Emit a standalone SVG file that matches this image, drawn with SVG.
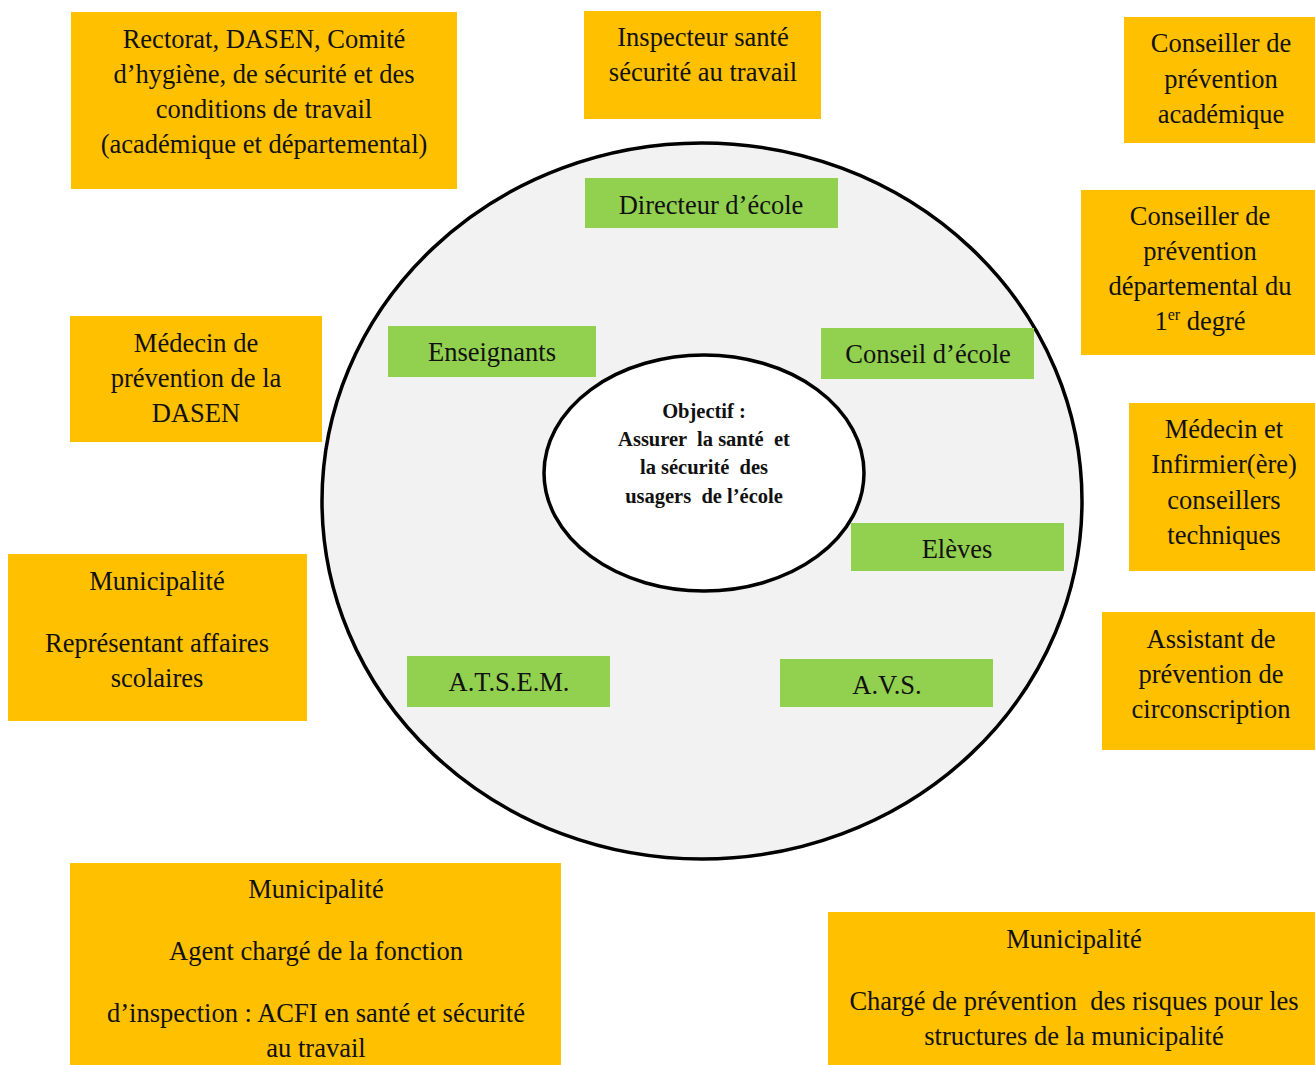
<svg xmlns="http://www.w3.org/2000/svg" width="1315" height="1065" viewBox="0 0 1315 1065">
<style>
.o{fill:#ffc000}
.g{fill:#92d050}
text{font-family:"Liberation Serif","Times New Roman",serif;font-size:26.5px;fill:#111;text-anchor:middle;white-space:pre}
.c{font-size:20.5px;font-weight:bold}
</style>
<rect width="1315" height="1065" fill="#fff"/>
<g id="outer-circle">
<ellipse cx="702" cy="501" rx="380" ry="358" fill="#f2f2f2" stroke="#000" stroke-width="3.5"/>
</g>
<g id="objectif">
<ellipse cx="704" cy="473" rx="160" ry="118" fill="#fff" stroke="#000" stroke-width="3.5"/>
<text class="c" xml:space="preserve"><tspan x="704" y="418">Objectif :</tspan><tspan x="704" y="446">Assurer  la santé  et</tspan><tspan x="704" y="474">la sécurité  des</tspan><tspan x="704" y="503">usagers  de l’école</tspan></text>
</g>
<g id="connectors"></g>
<g id="directeur"><rect class="g" x="585" y="178" width="253" height="50"/><text x="711" y="214">Directeur d’école</text></g>
<g id="enseignants"><rect class="g" x="388" y="326" width="208" height="51"/><text x="492" y="361">Enseignants</text></g>
<g id="conseil"><rect class="g" x="821" y="328" width="213" height="51"/><text x="928" y="363">Conseil d’école</text></g>
<g id="eleves"><rect class="g" x="851" y="523" width="213" height="48"/><text x="957" y="558">Elèves</text></g>
<g id="atsem"><rect class="g" x="407" y="656" width="203" height="51"/><text x="509" y="691">A.T.S.E.M.</text></g>
<g id="avs"><rect class="g" x="780" y="659" width="213" height="48"/><text x="887" y="694">A.V.S.</text></g>

<g id="rectorat"><rect class="o" x="71" y="12" width="386" height="177"/><text><tspan x="264" y="48">Rectorat, DASEN, Comité</tspan><tspan x="264" y="83">d’hygiène, de sécurité et des</tspan><tspan x="264" y="118">conditions de travail</tspan><tspan x="264" y="153">(académique et départemental)</tspan></text></g>
<g id="inspecteur"><rect class="o" x="584" y="11" width="237" height="108"/><text><tspan x="703" y="46">Inspecteur santé</tspan><tspan x="703" y="81">sécurité au travail</tspan></text></g>
<g id="cp-academique"><rect class="o" x="1124" y="17" width="191" height="126"/><text><tspan x="1221" y="52">Conseiller de</tspan><tspan x="1221" y="88">prévention</tspan><tspan x="1221" y="123">académique</tspan></text></g>
<g id="cp-departemental"><rect class="o" x="1081" y="190" width="234" height="165"/><text><tspan x="1200" y="225">Conseiller de</tspan><tspan x="1200" y="260">prévention</tspan><tspan x="1200" y="295">départemental du</tspan><tspan x="1200" y="330">1<tspan font-size="16" dy="-10">er</tspan><tspan dy="10"> degré</tspan></tspan></text></g>
<g id="medecin-infirmier"><rect class="o" x="1129" y="403" width="186" height="168"/><text><tspan x="1224" y="438">Médecin et</tspan><tspan x="1224" y="473">Infirmier(ère)</tspan><tspan x="1224" y="509">conseillers</tspan><tspan x="1224" y="544">techniques</tspan></text></g>
<g id="assistant"><rect class="o" x="1102" y="612" width="213" height="138"/><text><tspan x="1211" y="648">Assistant de</tspan><tspan x="1211" y="683">prévention de</tspan><tspan x="1211" y="718">circonscription</tspan></text></g>
<g id="medecin-dasen"><rect class="o" x="70" y="316" width="252" height="126"/><text><tspan x="196" y="352">Médecin de</tspan><tspan x="196" y="387">prévention de la</tspan><tspan x="196" y="422">DASEN</tspan></text></g>
<g id="municipalite-representant"><rect class="o" x="8" y="554" width="299" height="167"/><text><tspan x="157" y="590">Municipalité</tspan><tspan x="157" y="652">Représentant affaires</tspan><tspan x="157" y="687">scolaires</tspan></text></g>
<g id="municipalite-acfi"><rect class="o" x="70" y="863" width="491" height="202"/><text><tspan x="316" y="898">Municipalité</tspan><tspan x="316" y="960">Agent chargé de la fonction</tspan><tspan x="316" y="1022">d’inspection : ACFI en santé et sécurité</tspan><tspan x="316" y="1057">au travail</tspan></text></g>
<g id="municipalite-prevention"><rect class="o" x="828" y="912" width="487" height="153"/><text xml:space="preserve"><tspan x="1074" y="948">Municipalité</tspan><tspan x="1074" y="1010">Chargé de prévention  des risques pour les</tspan><tspan x="1074" y="1045">structures de la municipalité</tspan></text></g>
</svg>
